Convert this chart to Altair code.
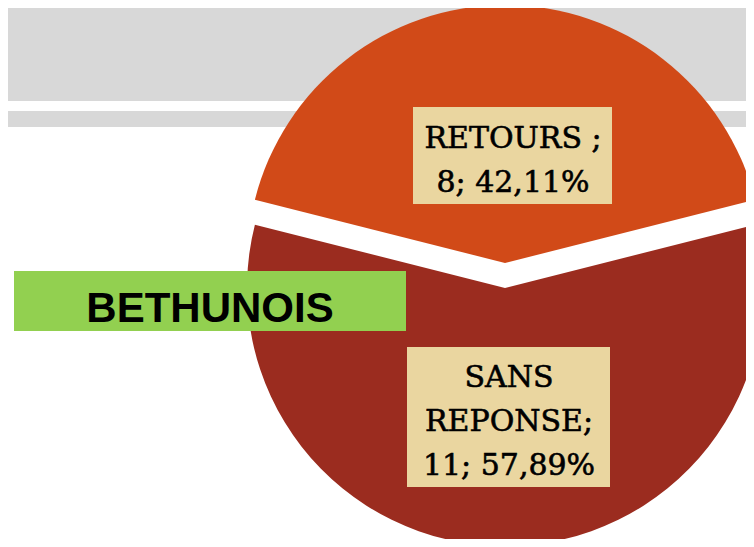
import math
import altair as alt
import pandas as pd

# ---- data ----
categories = ["RETOURS", "SANS REPONSE"]
counts = [8, 11]
percent_labels = ["42,11%", "57,89%"]
label_texts = ["RETOURS ;\n8; 42,11%", "SANS\nREPONSE;\n11; 57,89%"]
title_text = "BETHUNOIS"

# ---- styles ----
slice_colors = ["#D14A18", "#9B2C1F"]
paper = "#EAD6A0"
band_gray = "#D8D8D8"

total = sum(counts)
start_angle = -math.pi * counts[0] / total  # first slice centred at 12 o'clock

df = pd.DataFrame({"order": list(range(len(categories))), "category": categories,
                   "count": counts, "pct": percent_labels, "label": label_texts})
one = pd.DataFrame({"t": [title_text]})

base = alt.Chart(df).transform_window(
    cum="sum(count)", sort=[{"field": "order"}], frame=[None, 0]
).transform_calculate(start="datum.cum - datum.count")

theta_scale = alt.Scale(domain=[0, total], range=[start_angle, start_angle + 2 * math.pi])
color_scale = alt.Scale(domain=categories, range=slice_colors)

OX, OY = 8, 8  # page margin


def rect(x1, y1, x2, y2, color):
    return alt.Chart(one).mark_rect(color=color).encode(
        x=alt.value(x1 - OX), x2=alt.value(x2 - OX),
        y=alt.value(y1 - OY), y2=alt.value(y2 - OY))


layers = [
    rect(0, -10, 760, 101, band_gray),
    rect(0, 111, 760, 127, band_gray),
]

centers_y = [263, 288]
boxes = [(413, 107, 612, 204), (407, 347, 610, 487)]
text_pos = [(513, 148), (509, 387)]

for i, cat in enumerate(categories):
    layers.append(
        base.transform_filter(alt.datum.category == cat).mark_arc(outerRadius=258).encode(
            theta=alt.Theta("start:Q", scale=theta_scale),
            theta2="cum:Q",
            color=alt.Color("category:N", scale=color_scale, legend=None),
            x=alt.value(505 - OX), y=alt.value(centers_y[i] - OY))
    )

for i, cat in enumerate(categories):
    bx1, by1, bx2, by2 = boxes[i]
    layers.append(rect(bx1, by1, bx2, by2, paper))
    tx, ty = text_pos[i]
    layers.append(
        base.transform_filter(alt.datum.category == cat).mark_text(
            font="DejaVu Serif", fontSize=30, lineBreak="\n", lineHeight=44,
            align="center", baseline="alphabetic", color="#000000",
            stroke="#000000", strokeWidth=0.6).encode(
            text="label:N", x=alt.value(tx - OX), y=alt.value(ty - OY))
    )

layers.append(rect(14, 271, 406, 331, "#92D050"))
layers.append(
    alt.Chart(one).mark_text(font="Liberation Sans", fontSize=42, fontWeight="bold",
                             align="center", baseline="alphabetic", color="#000000").encode(
        text="t:N", x=alt.value(210 - OX), y=alt.value(322 - OY))
)

chart = alt.layer(*layers).properties(
    width=738, height=531, autosize="none", padding=0, background="white"
).configure_view(stroke=None)

chart.save("out.html", embed_options={"renderer": "svg", "actions": False})
